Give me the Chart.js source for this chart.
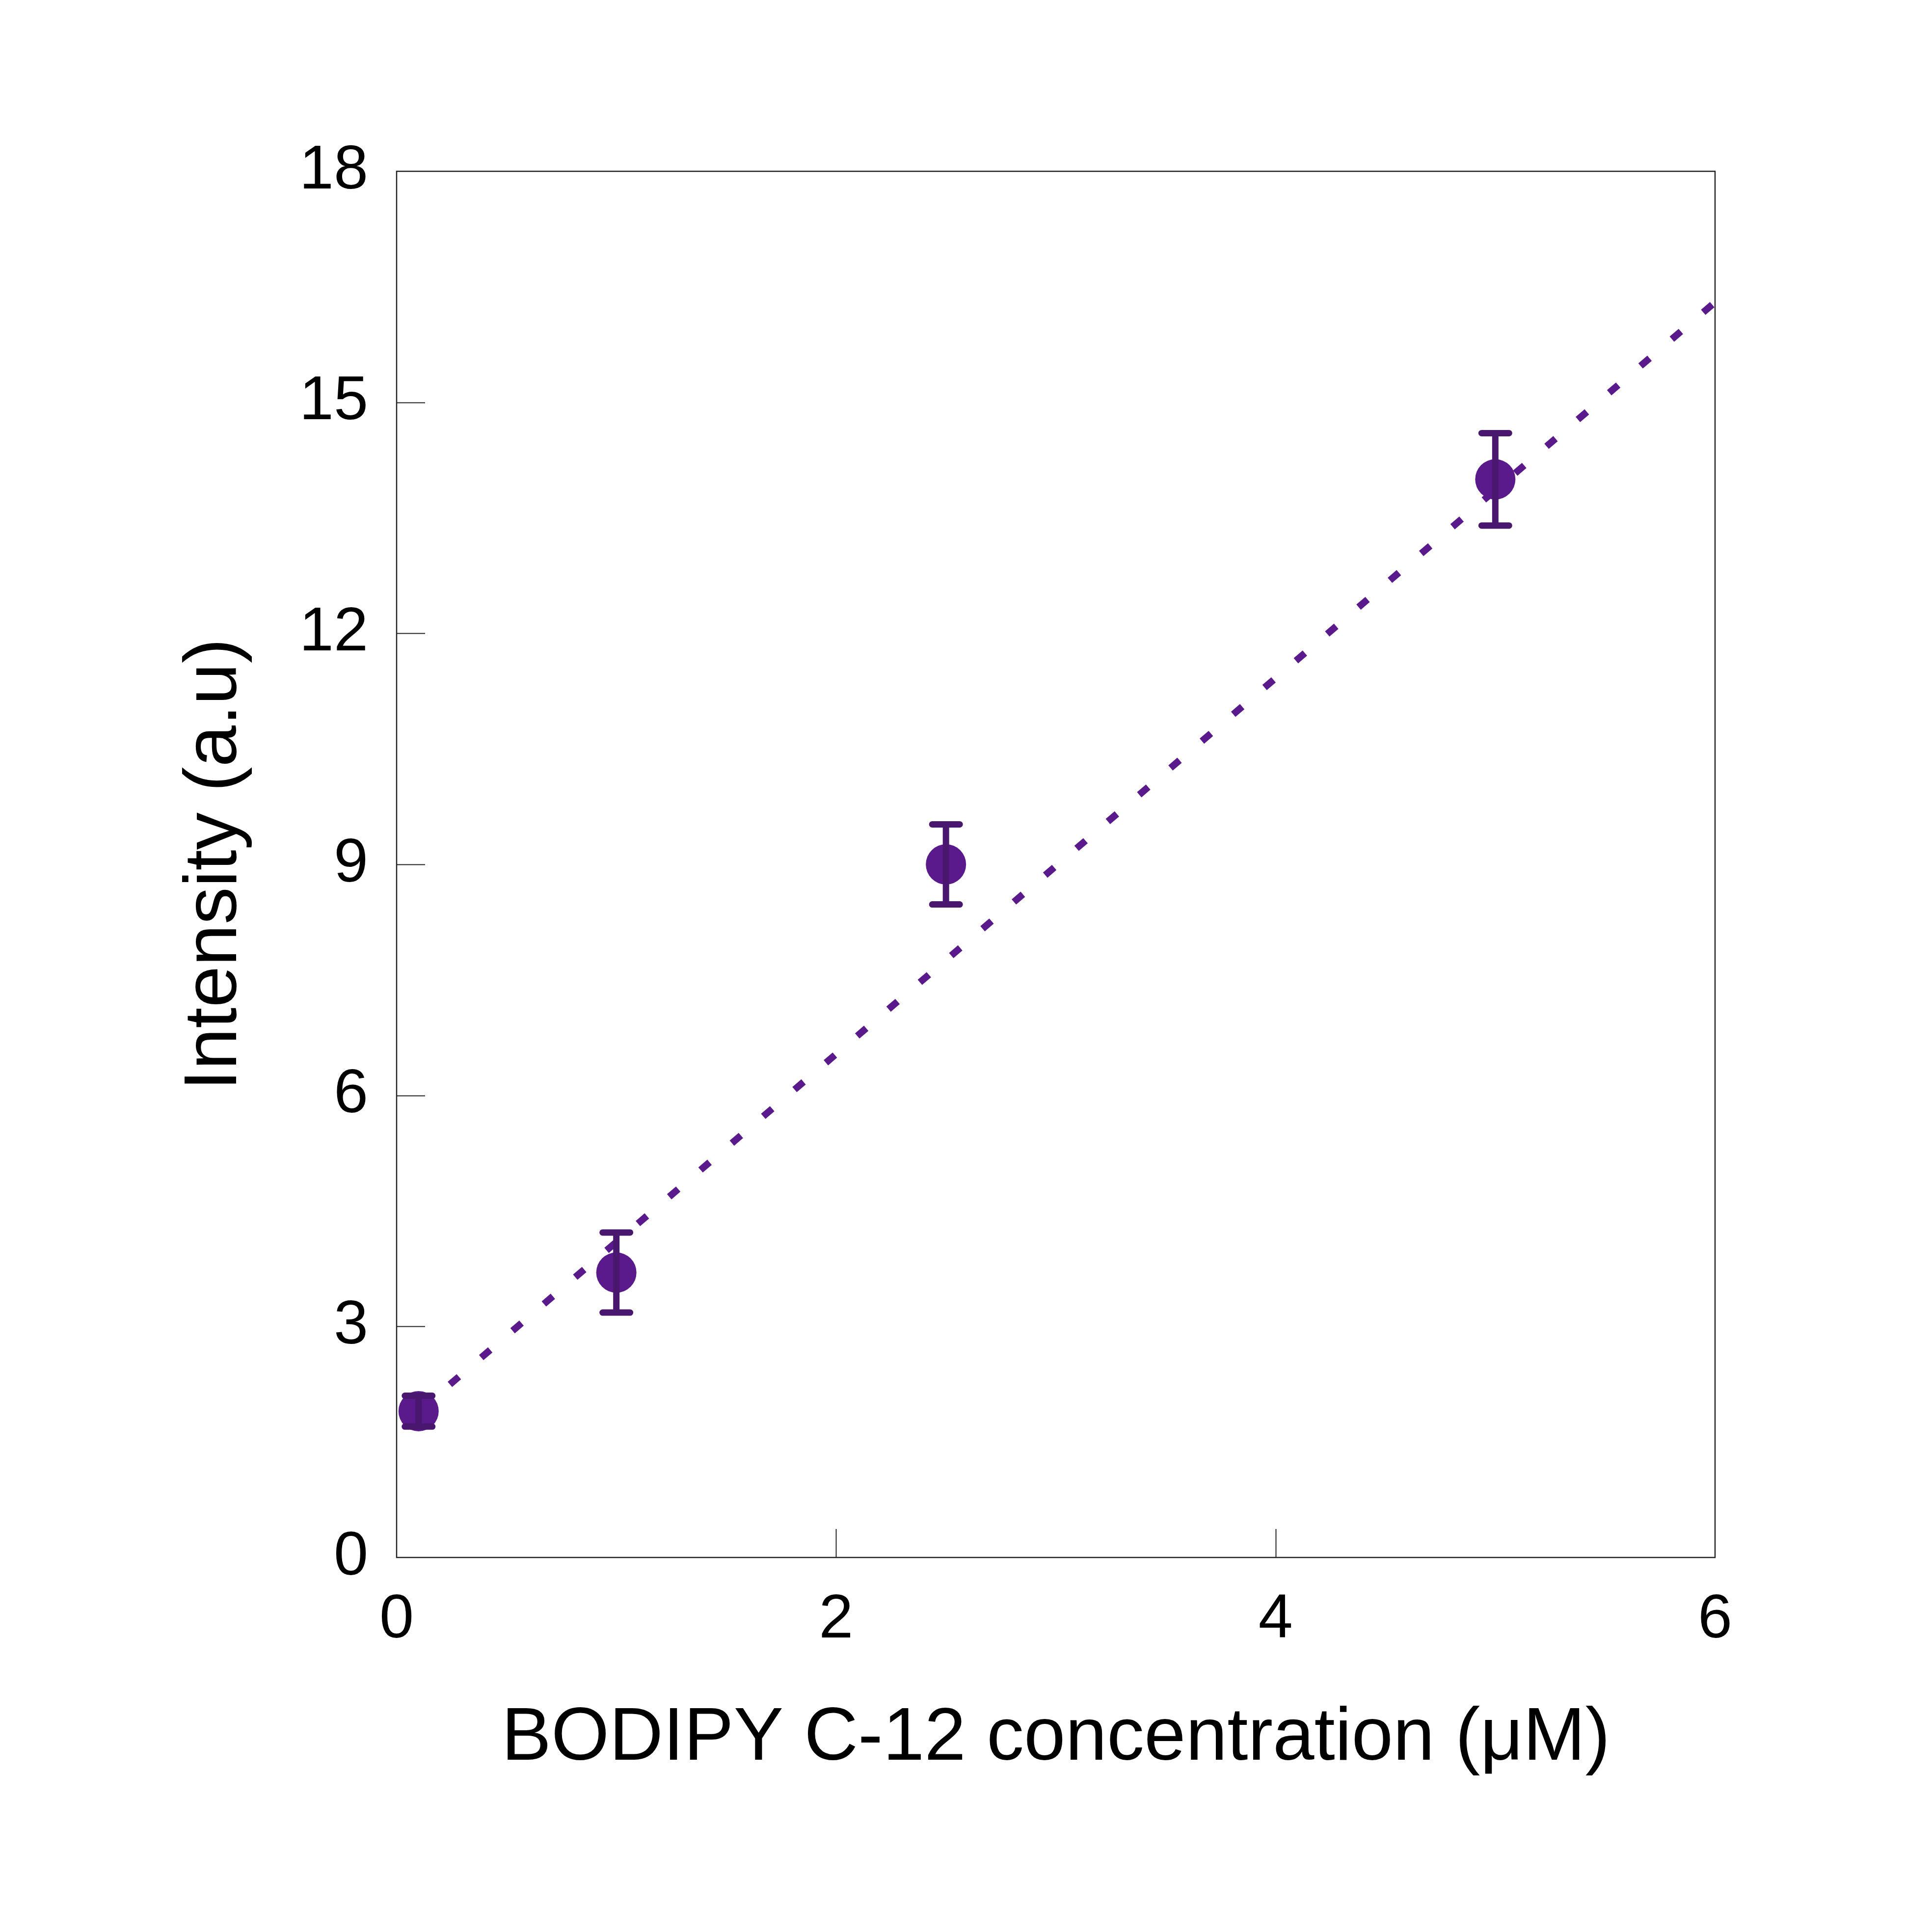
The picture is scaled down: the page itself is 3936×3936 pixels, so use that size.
<!DOCTYPE html>
<html><head><meta charset="utf-8">
<script src="https://cdn.jsdelivr.net/npm/chart.js@4.4.0/dist/chart.umd.min.js"></script>
<style>html,body{margin:0;padding:0;background:#fff;} canvas{display:block;}</style>
</head><body>
<canvas id="c" width="3936" height="3936" style="width:3936px;height:3936px"></canvas>
<script>
const concentrations = [0.1, 1, 2.5, 5];
const intensities = [1.9, 3.7, 9.0, 14.0];
const errors = [0.2, 0.52, 0.52, 0.6];
const trendX = [0.1, 6];
const trendY = [1.9, 16.3];
const xTickValues = [0, 2, 4, 6];
const yTickValues = [0, 3, 6, 9, 12, 15, 18];
const xTitle = 'BODIPY C-12 concentration (\u03BCM)';
const yTitle = 'Intensity (a.u)';

const FONT = "'Liberation Sans', Arial, sans-serif";
const markerColor = '#5A1A8B';
const errorColor = '#4A176F';

const framePlugin = {
  id: 'frame',
  beforeDatasetsDraw(chart) {
    const {ctx, chartArea: a, scales} = chart;
    ctx.save();
    ctx.strokeStyle = '#222';
    ctx.lineWidth = 2.5;
    ctx.strokeRect(a.left, a.top, a.right - a.left, a.bottom - a.top);
    ctx.beginPath();
    yTickValues.slice(1, -1).forEach(v => {
      const y = Math.round(scales.y.getPixelForValue(v)) + 0.5;
      ctx.moveTo(a.left, y); ctx.lineTo(a.left + 58, y);
    });
    xTickValues.slice(1, -1).forEach(v => {
      const x = Math.round(scales.x.getPixelForValue(v)) + 0.5;
      ctx.moveTo(x, a.bottom); ctx.lineTo(x, a.bottom - 58);
    });
    ctx.lineWidth = 2;
    ctx.stroke();
    ctx.restore();
  },
  afterDatasetsDraw(chart) {
    const {ctx, scales} = chart;
    ctx.save();
    ctx.strokeStyle = errorColor;
    ctx.lineWidth = 13;
    ctx.lineCap = 'round';
    concentrations.forEach((xv, i) => {
      const x = scales.x.getPixelForValue(xv);
      const yTop = scales.y.getPixelForValue(intensities[i] + errors[i]);
      const yBot = scales.y.getPixelForValue(intensities[i] - errors[i]);
      ctx.beginPath();
      ctx.moveTo(x, yTop); ctx.lineTo(x, yBot);
      ctx.moveTo(x - 28, yTop); ctx.lineTo(x + 28, yTop);
      ctx.moveTo(x - 28, yBot); ctx.lineTo(x + 28, yBot);
      ctx.stroke();
    });
    ctx.restore();
  }
};

new Chart(document.getElementById('c'), {
  type: 'scatter',
  data: {
    datasets: [
      {
        type: 'line',
        data: trendX.map((x, i) => ({x, y: trendY[i]})),
        borderColor: markerColor,
        borderWidth: 14,
        borderDash: [24, 60],
        borderCapStyle: 'butt',
        pointRadius: 0,
        fill: false,
        order: 2
      },
      {
        data: concentrations.map((x, i) => ({x, y: intensities[i]})),
        backgroundColor: markerColor,
        borderWidth: 0,
        pointRadius: 41,
        pointHoverRadius: 41,
        order: 1
      }
    ]
  },
  options: {
    responsive: false,
    animation: false,
    devicePixelRatio: 1,
    layout: {padding: {top: 349, right: 442, left: 0, bottom: 0}},
    plugins: {legend: {display: false}, tooltip: {enabled: false}},
    scales: {
      x: {
        type: 'linear', min: 0, max: 6,
        afterBuildTicks: s => { s.ticks = xTickValues.map(v => ({value: v})); },
        afterFit: s => { s.height = 763; },
        grid: {display: false},
        border: {display: false},
        ticks: {font: {family: FONT, size: 126}, color: '#000', padding: 45, maxRotation: 0},
        title: {display: true, text: xTitle, color: '#000', font: {family: FONT, size: 152}, padding: {top: 0, bottom: 302}}
      },
      y: {
        type: 'linear', min: 0, max: 18,
        afterBuildTicks: s => { s.ticks = yTickValues.map(v => ({value: v})); },
        afterFit: s => { s.width = 808; },
        grid: {display: false},
        border: {display: false},
        ticks: {font: {family: FONT, size: 126}, color: '#000', padding: 50},
        title: {display: true, text: yTitle, color: '#000', font: {family: FONT, size: 152}, padding: {top: 348, bottom: 0}}
      }
    }
  },
  plugins: [framePlugin]
});
</script>
</body></html>
